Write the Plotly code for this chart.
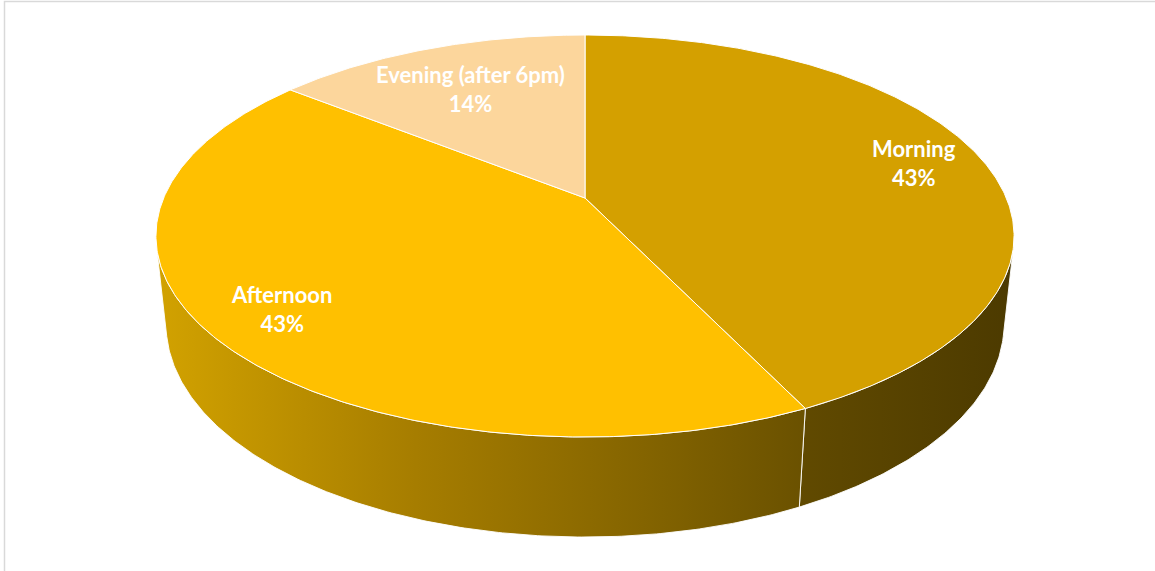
import math
import plotly.graph_objects as go

# Data
categories = ["Morning", "Afternoon", "Evening (after 6pm)"]
counts = [3, 3, 1]

# Styling
top_colors = ["#D4A000", "#FFC000", "#FCD69C"]
wall_scales = [
    [[0, "#614A00"], [1, "#4C3A00"]],
    [[0, "#D2A200"], [0.4, "#A67D00"], [0.75, "#846400"], [1, "#6A5100"]],
    [[0, "#B89A70"], [1, "#9A7F58"]],
]
label_radius = [0.83, 0.83, 0.7]

W, H = 1155, 571
CX, CY = 585, 198          # screen position of the pie centre
K = 1979                   # focal scale
DIST = 4.697               # camera distance (in pie radii)
ELEV = math.asin(0.46)     # camera elevation
THICK = 0.238              # pie thickness (in pie radii)
S, C = math.sin(ELEV), math.cos(ELEV)


def project(X, Y, Z):
    depth = DIST - S * Y - C * Z
    w = C * Y - S * Z
    return CX + K * X / depth, CY - K * w / depth


def rim(theta_deg, y=0.0, r=1.0):
    t = math.radians(theta_deg)
    return project(r * math.sin(t), y, -r * math.cos(t))


def arc(a0, a1, y=0.0):
    n = max(2, int(abs(a1 - a0) / 0.5) + 1)
    return [rim(a0 + (a1 - a0) * i / (n - 1), y) for i in range(n)]


total = sum(counts)
fractions = [v / total for v in counts]
starts = []
acc = 0.0
for f in fractions:
    starts.append(acc * 360)
    acc += f
ends = [s + f * 360 for s, f in zip(starts, fractions)]

# angles where the cylinder side turns away from the camera
sil = math.degrees(math.acos(-1 / (DIST * C)))
vis_lo, vis_hi = sil, 360 - sil

fig = go.Figure()

# side walls
for i, name in enumerate(categories):
    lo, hi = max(starts[i], vis_lo), min(ends[i], vis_hi)
    if lo >= hi:
        continue
    pts = arc(lo, hi, 0.0) + arc(hi, lo, -THICK)
    xs = [p[0] for p in pts] + [pts[0][0]]
    ys = [p[1] for p in pts] + [pts[0][1]]
    fig.add_trace(go.Scatter(
        x=xs, y=ys, mode="lines", fill="toself",
        line=dict(color="rgba(255,255,255,0.9)", width=1),
        fillgradient=dict(type="horizontal", colorscale=wall_scales[i],
                          start=min(xs), stop=max(xs)),
        hoverinfo="skip", showlegend=False,
    ))

# top faces
for i, name in enumerate(categories):
    pts = [project(0, 0, 0)] + arc(starts[i], ends[i]) + [project(0, 0, 0)]
    fig.add_trace(go.Scatter(
        x=[p[0] for p in pts], y=[p[1] for p in pts],
        mode="lines", fill="toself", fillcolor=top_colors[i],
        line=dict(color="white", width=1),
        hoverinfo="skip", showlegend=False,
    ))

# data labels
for i, name in enumerate(categories):
    mid = (starts[i] + ends[i]) / 2
    lx, ly = rim(mid, 0.0, label_radius[i])
    pct = round(fractions[i] * 100)
    fig.add_annotation(
        x=lx, y=ly, text=f"<b>{name}</b><br><b>{pct}%</b>",
        showarrow=False, align="center",
        font=dict(family="Lato, 'Open Sans', sans-serif", size=22, color="white"),
    )

# chart area border
fig.add_shape(type="rect", x0=4.5, y0=1.5, x1=W + 10, y1=H + 10,
              line=dict(color="#D9D9D9", width=1.5), layer="below")

fig.update_layout(
    width=W, height=H,
    margin=dict(l=0, r=0, t=0, b=0),
    paper_bgcolor="white", plot_bgcolor="white",
    xaxis=dict(range=[0, W], visible=False, fixedrange=True),
    yaxis=dict(range=[H, 0], visible=False, fixedrange=True),
    showlegend=False,
)

fig.write_html("out.html")
